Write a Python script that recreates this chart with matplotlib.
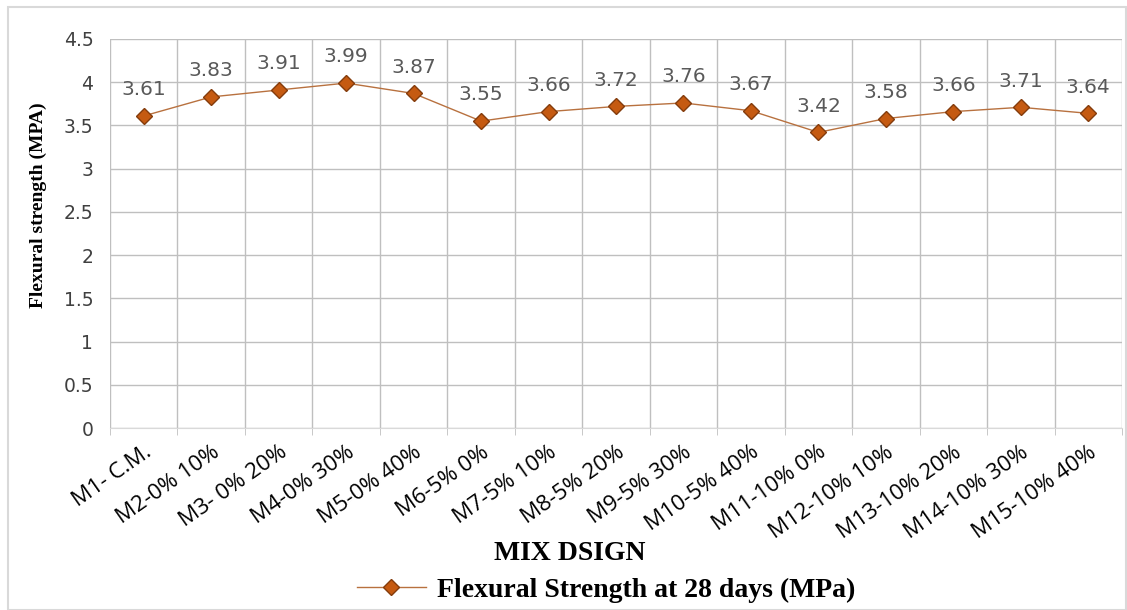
import numpy as np
import matplotlib.pyplot as plt
from matplotlib.patches import Rectangle

# data
mixes = ['M1- C.M.', 'M2-0% 10%', 'M3- 0% 20%', 'M4-0% 30%', 'M5-0% 40%',
         'M6-5% 0%', 'M7-5% 10%', 'M8-5% 20%', 'M9-5% 30%', 'M10-5% 40%',
         'M11-10% 0%', 'M12-10% 10%', 'M13-10% 20%', 'M14-10% 30%', 'M15-10% 40%']
strength = [3.61, 3.83, 3.91, 3.99, 3.87, 3.55, 3.66, 3.72, 3.76, 3.67,
            3.42, 3.58, 3.66, 3.71, 3.64]
yticks = [0, 0.5, 1, 1.5, 2, 2.5, 3, 3.5, 4, 4.5]

fig = plt.figure(figsize=(11.27, 6.10), dpi=100)
ax = fig.add_axes([110/1127, 1-428/610, (1122-110)/1127, (428-39)/610])

# outer chart border
fig.patches.append(Rectangle((8/1127, 0), 1118/1127, 1-7/610, transform=fig.transFigure,
                             fill=False, edgecolor='#d9d9d9', linewidth=1.5))

x = np.arange(len(mixes))
ax.plot(x, strength, color='#b8713f', linewidth=1, marker='D', markersize=8.5,
        markerfacecolor='#c55a11', markeredgecolor='#843c0c', markeredgewidth=1,
        label='Flexural Strength at 28 days (MPa)', zorder=3)
for xi, v in zip(x, strength):
    ax.annotate(f'{v:.2f}', (xi, v), xytext=(0, 12), textcoords='offset points',
                ha='center', va='bottom', fontsize=14.5, color='#595959', family='DejaVu Sans')

ax.set_xlim(-0.5, len(mixes) - 0.5)
ax.set_ylim(0, 4.5)
ax.set_yticks(yticks)
ax.set_yticklabels([f'{t:g}' for t in yticks], fontsize=13.5, color='#404040')
ax.set_xticks(x)
ax.set_xticklabels(mixes, rotation=35, ha='right', rotation_mode='anchor',
                   fontsize=16, color='black', family='Open Sans')
ax.set_xticks(np.arange(len(mixes) + 1) - 0.5, minor=True)
ax.grid(True, axis='y', color='#bfbfbf', linewidth=1)
ax.grid(True, axis='x', which='minor', color='#bfbfbf', linewidth=1)
ax.tick_params(axis='x', which='major', length=0, pad=10)
ax.tick_params(axis='x', which='minor', length=5, color='#bfbfbf')
ax.tick_params(axis='y', length=0, pad=12)
for s in ['top', 'right', 'left']:
    ax.spines[s].set_visible(False)
ax.spines['bottom'].set_color('#d9d9d9')
ax.set_axisbelow(True)

ax.set_ylabel('Flexural strength (MPA)', fontsize=14, fontweight='bold',
              family='Liberation Serif')
ax.yaxis.set_label_coords(-0.062, 0.573)
fig.text(570/1127, 1-554/610, 'MIX DSIGN', ha='center', va='center', fontsize=20,
         fontweight='bold', family='Liberation Serif')
fig.legend(loc='center', bbox_to_anchor=(606/1127, 1-590/610), frameon=False,
           prop={'family': 'Liberation Serif', 'weight': 'bold', 'size': 20},
           handlelength=2.5, handletextpad=0.4)

fig.savefig('out.png', dpi=100)
